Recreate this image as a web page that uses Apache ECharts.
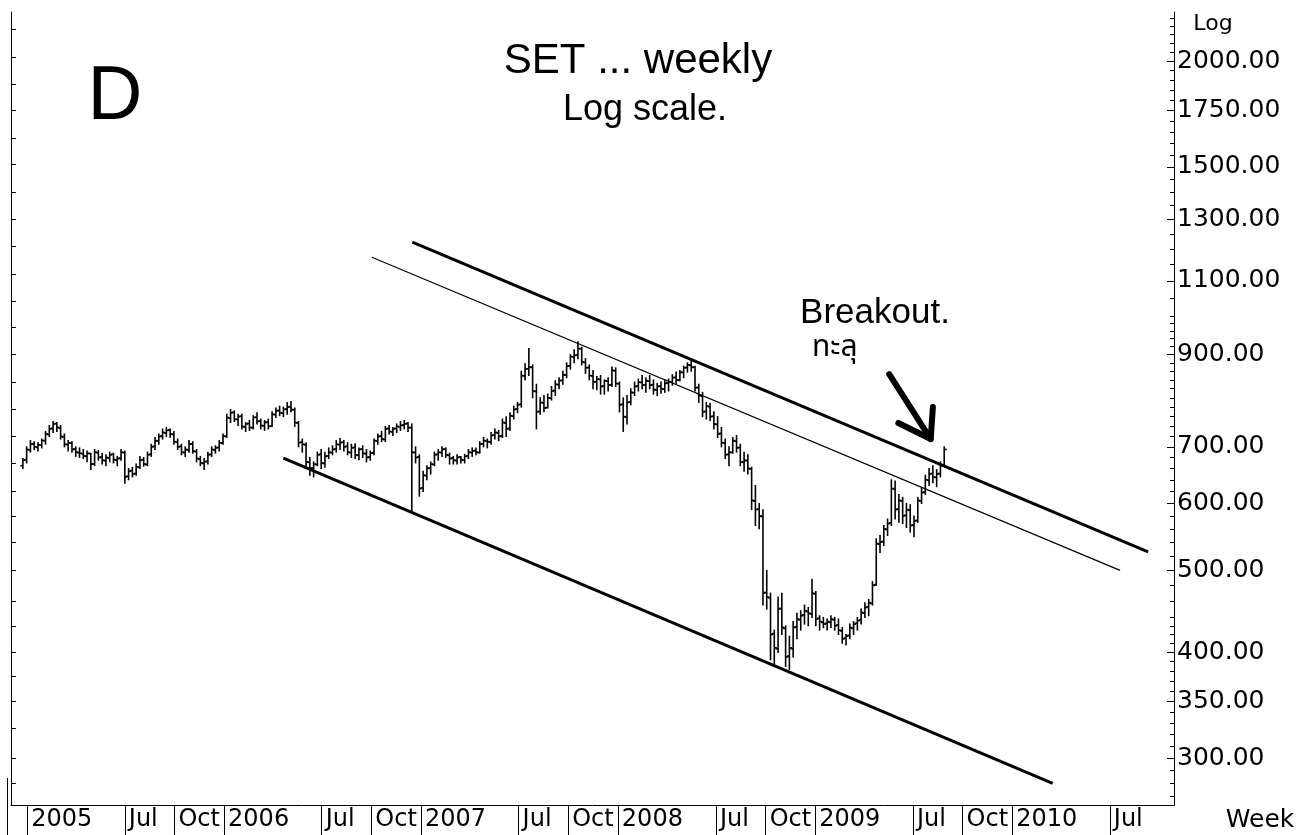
<!DOCTYPE html>
<html><head><meta charset="utf-8">
<script src="https://cdn.jsdelivr.net/npm/echarts@6/dist/echarts.min.js"></script>
<style>html,body{margin:0;padding:0;background:#fff}#c{width:1306px;height:835px}</style>
</head><body><div id="c"></div><script>
// first weekly bar (Friday) ; one bar per week after it
const firstWeek = [2004, 11, 24];

const open = [665,676,694,706,699,703,712,724,736,746,737,719,704,707,696,689,687,682,687,668,
689,681,674,679,686,675,679,689,646,656,651,662,676,667,686,701,711,721,727,733,
724,709,701,689,694,706,691,677,669,673,686,694,699,707,721,757,769,754,761,739,
746,737,759,751,741,749,741,764,773,767,776,781,774,747,709,704,671,661,667,686,
669,683,689,696,704,709,701,689,699,684,696,687,681,689,711,721,714,736,729,736,
739,743,746,737,689,681,626,647,661,667,686,689,696,684,679,674,681,675,683,689,
693,689,706,711,709,723,727,721,747,736,761,776,786,849,866,869,814,771,789,779,
799,816,829,839,851,873,894,899,914,881,869,849,836,841,826,837,829,861,831,786,
759,791,811,826,834,829,837,829,817,826,819,833,835,846,839,857,869,874,869,823,
804,771,781,761,744,726,707,686,689,711,699,671,674,659,604,591,579,471,464,421,
404,451,427,396,404,429,437,443,447,444,469,439,434,433,434,437,431,424,416,419,
427,433,437,445,453,457,481,537,541,559,569,624,591,604,581,589,566,573,604,619,
639,651,644,651,666];

const high = [678,700,712,710,708,715,730,742,750,748,742,725,712,710,700,698,695,692,688,695,
693,688,685,690,688,682,695,692,660,662,668,682,680,690,705,718,725,735,738,735,
730,715,705,700,712,710,695,682,678,690,700,702,712,725,765,775,772,765,765,748,
752,762,768,755,752,755,770,778,782,780,790,792,778,750,715,708,680,672,690,695,
690,698,702,712,716,712,708,705,706,698,702,695,692,715,725,730,740,742,738,745,
750,752,748,745,700,685,655,665,672,690,695,700,698,688,682,685,682,686,695,698,
698,710,718,715,728,735,732,755,760,768,782,790,860,878,915,875,830,800,805,808,
825,838,845,860,880,900,912,932,918,890,875,862,848,850,840,845,870,868,835,800,
805,820,835,842,850,845,850,840,832,835,840,842,852,858,862,872,880,888,872,830,
812,790,788,770,760,738,715,700,718,722,705,690,685,662,630,600,590,500,470,425,
465,470,430,418,435,445,448,455,452,488,472,442,440,438,442,440,438,428,420,432,
435,440,450,458,462,485,545,550,565,575,640,638,615,610,600,598,580,610,625,648,
660,665,658,672,700];

const low = [660,670,690,695,692,698,705,720,728,730,715,700,692,690,682,680,678,672,658,665,
675,668,665,672,670,665,675,634,640,645,648,660,664,665,682,695,705,715,720,718,
705,695,685,682,690,688,672,665,658,668,682,688,692,705,718,748,750,742,735,730,
732,735,745,735,732,735,740,758,762,760,765,770,740,700,690,665,648,645,665,660,
662,678,685,690,695,692,685,680,678,676,680,672,675,685,705,710,710,725,722,728,
732,735,730,588,670,612,620,640,650,665,675,682,680,668,668,668,670,670,678,682,
685,688,700,698,705,715,712,718,720,732,755,768,780,840,850,800,735,765,770,778,
795,805,820,830,845,865,880,890,875,855,840,820,818,808,808,815,825,825,770,730,
745,785,805,815,820,812,820,808,805,810,812,815,828,832,838,845,858,860,815,790,
760,755,752,735,718,700,678,665,688,690,665,655,650,590,565,560,455,450,392,385,
400,420,385,382,395,415,425,432,430,440,430,425,428,425,428,425,420,410,408,415,
420,425,432,440,442,455,480,525,535,550,565,575,570,568,562,555,548,570,600,615,
630,635,628,645,665];

const close = [675,695,705,700,704,712,725,735,745,738,720,705,708,695,690,688,683,688,668,690,
680,675,680,685,676,678,690,645,655,650,663,675,668,685,700,712,720,728,732,725,
710,700,690,695,705,692,678,670,672,685,695,698,708,720,758,768,755,760,740,745,
738,758,750,742,748,740,765,772,768,775,780,775,748,708,705,672,660,668,685,670,
682,690,695,705,708,700,690,698,685,695,688,680,688,712,720,715,735,730,735,740,
742,745,738,690,680,625,648,660,668,685,690,695,685,678,675,680,676,682,690,692,
690,705,712,710,722,728,720,748,735,762,775,785,850,865,870,815,770,790,778,800,
815,830,838,852,872,895,898,915,882,868,850,835,842,825,838,828,862,832,785,760,
790,812,825,835,828,838,828,818,825,820,832,836,845,840,858,868,875,870,822,805,
770,782,760,745,725,708,685,690,712,698,672,675,660,605,590,580,470,465,420,405,
450,428,395,405,428,438,442,448,445,470,438,435,432,435,438,430,425,415,418,428,
432,436,446,452,458,480,538,540,560,568,625,590,605,580,590,565,572,605,618,640,
650,645,650,665,695];

// hand-drawn channel lines (date, price)
const lowerTrend = [['2006-04-21', 679], ['2010-03-17', 280]];
const upperTrend = [['2006-12-16', 1222], ['2010-09-10', 526]];
const midTrend = [['2006-10-02', 1173], ['2010-07-20', 500]];
const arrowShaft = [['2009-05-18', 853], ['2009-08-03', 715]];
const arrowHead = [['2009-06-04', 747], ['2009-08-03', 715], ['2009-08-07', 780]];

const dateTicks = ['2005-01-01','2005-07-01','2005-10-01','2006-01-01','2006-07-01','2006-10-01',
'2007-01-01','2007-07-01','2007-10-01','2008-01-01','2008-07-01','2008-10-01',
'2009-01-01','2009-07-01','2009-10-01','2010-01-01','2010-07-01'];
const priceLabels = [300,350,400,500,600,700,900,1100,1300,1500,1750,2000];
const leftTicks = [280,300,325,350,375,400,430,460,500,540,580,620,670,720,775,835,900,970,1040,1120,1210,1300,1400,1510,1620,1750,1880,2020,2180];
const minorTicksA = [270,280,290,310,320,330,340,360,370,380,390,410,420,430,440,460,480];
const minorTicksB = [520,540,560,580,620,640,660,680,720,740,760,780,800,820,840,860,880];
const minorTicksC = [920,940,960,980,1000,1050,1150,1200,1250,1350,1400,1450,1550,1600,1650,1700,1800,1850,1900,1950,2050,2100,2150,2200,2250];

const ts = s => { const p = s.split('-').map(Number); return new Date(p[0], p[1]-1, p[2]).getTime(); };
const pts = arr => arr.map(p => [ts(p[0]), p[1]]);
const rows = close.map((c, i) => [new Date(firstWeek[0], firstWeek[1], firstWeek[2] + 7*i).getTime(), open[i], high[i], low[i], c]);

const xMin = ts('2004-12-02'), xMax = ts('2010-10-28');
const yMin = 264, yMax = 2287;
const gridLeft = 11, gridRight = 132, chartW = 1306;
const labelFont = '"DejaVu Sans", sans-serif';
const months = {0: null, 6: 'Jul', 9: 'Oct'};
// minor ticks of the right scale: a left-type axis shifted onto the right edge, ticks pointing into the plot
const minorAxis = vals => ({
  type: 'log', position: 'left', offset: -(chartW - gridLeft - gridRight), min: yMin, max: yMax,
  axisLine: {show: false},
  axisTick: {show: true, inside: false, length: 4, customValues: vals, lineStyle: {color: '#000'}},
  axisLabel: {show: false}, splitLine: {show: false}
});

const chart = echarts.init(document.getElementById('c'), null, {renderer: 'canvas'});
chart.setOption({
  animation: false,
  backgroundColor: '#fff',
  grid: {left: gridLeft, right: gridRight, top: 12, bottom: 30},
  xAxis: {
    type: 'value', min: xMin, max: xMax, scale: true,
    axisLine: {show: true, lineStyle: {color: '#000', width: 1}},
    axisTick: {show: true, customValues: dateTicks.map(ts), length: 30, lineStyle: {color: '#000', width: 1}},
    axisLabel: {
      customValues: dateTicks.map(ts), margin: 15, align: 'left', verticalAlign: 'middle',
      padding: [0, 0, 0, 4], color: '#000', fontFamily: labelFont, fontSize: 24, hideOverlap: false,
      showMinLabel: true, showMaxLabel: true,
      formatter: v => { const d = new Date(v); const m = d.getMonth(); return months[m] || String(d.getFullYear()); }
    },
    splitLine: {show: false}
  },
  yAxis: [{
    type: 'log', position: 'right', min: yMin, max: yMax,
    axisLine: {show: true, lineStyle: {color: '#000', width: 1}},
    axisTick: {show: true, inside: true, length: 7, customValues: priceLabels, lineStyle: {color: '#000'}},
    axisLabel: {customValues: priceLabels, margin: 3, color: '#000', fontFamily: labelFont, fontSize: 25,
      formatter: v => Number(v).toFixed(2)},
    splitLine: {show: false}
  },
  {
    type: 'log', position: 'left', min: yMin, max: yMax,
    axisLine: {show: true, lineStyle: {color: '#000', width: 1}},
    axisTick: {show: true, inside: true, length: 5, customValues: leftTicks, lineStyle: {color: '#000'}},
    axisLabel: {show: false}, splitLine: {show: false}
  },
  minorAxis(minorTicksA), minorAxis(minorTicksB), minorAxis(minorTicksC)],
  series: [{
    type: 'custom', name: 'SET', clip: true,
    data: rows,
    encode: {x: 0, y: [1, 2, 3, 4]},
    renderItem: (params, api) => {
      const x = api.value(0);
      const pH = api.coord([x, api.value(2)]), pL = api.coord([x, api.value(3)]);
      const pO = api.coord([x, api.value(1)]), pC = api.coord([x, api.value(4)]);
      const st = {stroke: '#000', lineWidth: 1.6};
      return {type: 'group', children: [
        {type: 'line', shape: {x1: pH[0], y1: pH[1] - 0.5, x2: pL[0], y2: pL[1] + 0.5}, style: st},
        {type: 'line', shape: {x1: pO[0] - 2.5, y1: pO[1], x2: pO[0], y2: pO[1]}, style: st},
        {type: 'line', shape: {x1: pC[0], y1: pC[1], x2: pC[0] + 2.5, y2: pC[1]}, style: st}
      ]};
    }
  },
  {type: 'line', data: pts(lowerTrend), symbol: 'none', lineStyle: {color: '#000', width: 3}, z: 3},
  {type: 'line', data: pts(upperTrend), symbol: 'none', lineStyle: {color: '#000', width: 3}, z: 3},
  {type: 'line', data: pts(midTrend), symbol: 'none', lineStyle: {color: '#000', width: 1.2}, z: 3},
  {type: 'line', data: pts(arrowShaft), symbol: 'none', lineStyle: {color: '#000', width: 6, cap: 'round'}, z: 4},
  {type: 'line', data: pts(arrowHead), symbol: 'none', lineStyle: {color: '#000', width: 6, cap: 'round', join: 'round'}, z: 4}
  ],
  graphic: [
    {type: 'text', style: {text: 'D', x: 115, y: 98, font: '76px "Liberation Sans", Arial, sans-serif', fill: '#000', align: 'center', verticalAlign: 'middle'}},
    {type: 'text', style: {text: 'SET ... weekly', x: 638, y: 61, font: '42px "Liberation Sans", Arial, sans-serif', fill: '#000', align: 'center', verticalAlign: 'middle'}},
    {type: 'text', style: {text: 'Log scale.', x: 645, y: 110, font: '36px "Liberation Sans", Arial, sans-serif', fill: '#000', align: 'center', verticalAlign: 'middle'}},
    {type: 'text', style: {text: 'Breakout.', x: 875, y: 313, font: '35px "Liberation Sans", Arial, sans-serif', fill: '#000', align: 'center', verticalAlign: 'middle'}},
    {type: 'text', style: {text: 'ทะลุ', x: 812, y: 350, font: '30px "Noto Sans Thai", "Noto Sans", sans-serif', fill: '#000', align: 'left', verticalAlign: 'middle'}},
    {type: 'text', style: {text: 'Log', x: 1213, y: 24, font: '22px "DejaVu Sans", sans-serif', fill: '#000', align: 'center', verticalAlign: 'middle'}},
    {type: 'text', style: {text: 'Week', x: 1260, y: 820, font: '25px "DejaVu Sans", sans-serif', fill: '#000', align: 'center', verticalAlign: 'middle'}},
    {type: 'line', shape: {x1: 7.5, y1: 778, x2: 7.5, y2: 835}, style: {stroke: '#000', lineWidth: 1}}
  ]
});
</script></body></html>
